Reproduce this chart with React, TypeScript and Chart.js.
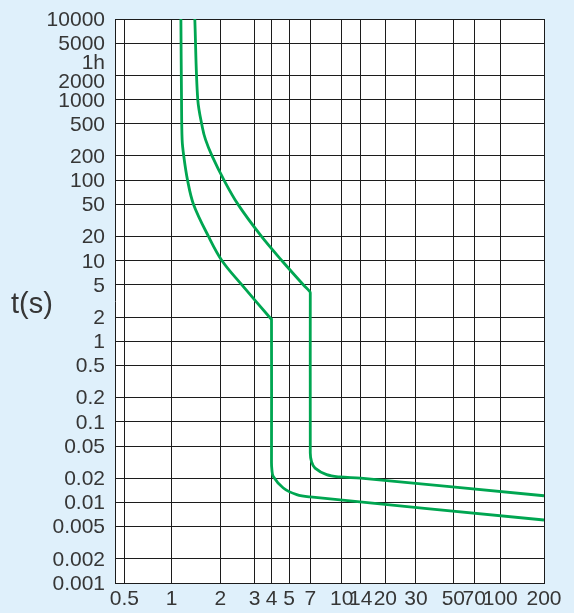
import React, { useEffect, useRef } from 'react';
import { Chart, registerables, LinearScale } from 'chart.js';

Chart.register(...registerables);

// ---- Axis definitions ----
const X_TICKS = [0.5, 1, 2, 3, 4, 5, 7, 10, 14, 20, 30, 50, 70, 100, 200];
// position of each x tick along the (hand-drawn, irregular log) axis, as a fraction of its width
const X_TICK_FRAC = [0.0217, 0.1322, 0.2455, 0.3256, 0.3648, 0.4056, 0.4552, 0.5284, 0.5727, 0.6301, 0.7016, 0.7886, 0.8375, 0.8981, 1.0];

const Y_TICK_VALUES = [10000, 5000, 3600, 2000, 1000, 500, 200, 100, 50, 20, 10, 5, 2, 1, 0.5, 0.2, 0.1, 0.05, 0.02, 0.01, 0.005, 0.002, 0.001];
const Y_TICK_LABELS = ['10000', '5000', '1h', '2000', '1000', '500', '200', '100', '50', '20', '10', '5', '2', '1', '0.5', '0.2', '0.1', '0.05', '0.02', '0.01', '0.005', '0.002', '0.001'];
const Y_GRID = [10000, 5000, 2000, 1000, 500, 200, 100, 50, 20, 10, 5, 2, 1, 0.5, 0.2, 0.1, 0.05, 0.02, 0.01, 0.005, 0.002, 0.001];

// ---- Series (x = multiple of In, y = time in s) ----
const CURVE_A_CURRENT = [1.14, 1.15, 1.16, 1.187, 1.253, 1.365, 1.69, 2.04, 2.58, 3.93, 4, 4, 4.02, 4.09, 4.65, 5.65, 7, 200];
const CURVE_A_TIME = [10000, 1000, 318, 200, 100, 50, 20, 10, 5, 1.93, 1.9, 0.031, 0.0255, 0.021, 0.0151, 0.0125, 0.0117, 0.00605];

const CURVE_B_CURRENT = [1.39, 1.45, 1.55, 1.62, 1.777, 2.089, 2.464, 3.37, 4.57, 6.29, 6.9, 7, 7, 7.1, 7.39, 8.43, 9.8, 14, 200];
const CURVE_B_TIME = [10000, 1000, 448, 318, 200, 100, 50, 20, 10, 5, 4.2, 4.0, 0.041, 0.032, 0.0267, 0.0221, 0.0207, 0.02, 0.0121];

// ---- Styles ----
const BG = '#dff0fb';
const GRID = '#1c1c1c';
const GREEN = '#00a651';
const LABEL = '#363636';
const FONT = '"Liberation Sans", Arial, sans-serif';

const LOG_TICKS = X_TICKS.map((v) => Math.log10(v));

function valueToFrac(v: number): number {
  const lv = Math.log10(Math.max(v, 1e-9));
  const n = LOG_TICKS.length;
  let i = 0;
  if (lv >= LOG_TICKS[n - 1]) i = n - 2;
  else if (lv > LOG_TICKS[0]) {
    while (i < n - 2 && lv > LOG_TICKS[i + 1]) i++;
  }
  const t = (lv - LOG_TICKS[i]) / (LOG_TICKS[i + 1] - LOG_TICKS[i]);
  return X_TICK_FRAC[i] + t * (X_TICK_FRAC[i + 1] - X_TICK_FRAC[i]);
}

function fracToValue(f: number): number {
  const n = X_TICK_FRAC.length;
  let i = 0;
  if (f >= X_TICK_FRAC[n - 1]) i = n - 2;
  else if (f > X_TICK_FRAC[0]) {
    while (i < n - 2 && f > X_TICK_FRAC[i + 1]) i++;
  }
  const t = (f - X_TICK_FRAC[i]) / (X_TICK_FRAC[i + 1] - X_TICK_FRAC[i]);
  return Math.pow(10, LOG_TICKS[i] + t * (LOG_TICKS[i + 1] - LOG_TICKS[i]));
}

class PiecewiseLogScale extends LinearScale {
  static id = 'piecewiseLog';
  static defaults = {};
  buildTicks() {
    return X_TICKS.map((v) => ({ value: v }));
  }
  getPixelForValue(value: number) {
    return this.getPixelForDecimal(valueToFrac(value));
  }
  getValueForPixel(pixel: number) {
    return fracToValue(this.getDecimalForPixel(pixel));
  }
}
Chart.register(PiecewiseLogScale as any);

const backgroundPlugin = {
  id: 'bgFill',
  beforeDraw(chart: any) {
    const { ctx, chartArea, width, height } = chart;
    ctx.save();
    ctx.fillStyle = BG;
    ctx.fillRect(0, 0, width, height);
    ctx.fillStyle = '#ffffff';
    ctx.fillRect(chartArea.left, chartArea.top, chartArea.right - chartArea.left, chartArea.bottom - chartArea.top);
    ctx.restore();
  },
};

const yLabelPlugin = {
  id: 'yLabels',
  afterDraw(chart: any) {
    const { ctx, chartArea, scales } = chart;
    const ys = scales.y;
    ctx.save();
    ctx.font = `21px ${FONT}`;
    ctx.fillStyle = LABEL;
    ctx.textAlign = 'right';
    ctx.textBaseline = 'middle';
    let prev = -Infinity;
    Y_TICK_VALUES.forEach((v, i) => {
      let py = ys.getPixelForValue(v);
      py = Math.max(py, prev + 19);
      prev = py;
      ctx.fillText(Y_TICK_LABELS[i], chartArea.left - 10, py + 1);
    });
    ctx.font = `29px ${FONT}`;
    ctx.textAlign = 'center';
    ctx.textBaseline = 'middle';
    ctx.fillText('t(s)', 32, (chartArea.top + chartArea.bottom) / 2 + 4);
    ctx.restore();
  },
};

function toPoints(xs: number[], ys: number[]) {
  return xs.map((x, i) => ({ x, y: ys[i] }));
}

export default function App() {
  const canvasRef = useRef<HTMLCanvasElement | null>(null);

  useEffect(() => {
    document.body.style.margin = '0';
    document.body.style.background = BG;
    const canvas = canvasRef.current;
    if (!canvas) return;
    const lineStyle = {
      borderColor: GREEN,
      borderWidth: 2.8,
      pointRadius: 0,
      tension: 0.35,
      fill: false,
      borderJoinStyle: 'round' as const,
    };
    const chart = new Chart(canvas, {
      type: 'line',
      data: {
        datasets: [
          { label: 'A', data: toPoints(CURVE_A_CURRENT, CURVE_A_TIME), ...lineStyle },
          { label: 'B', data: toPoints(CURVE_B_CURRENT, CURVE_B_TIME), ...lineStyle },
        ],
      },
      options: {
        animation: false,
        responsive: false,
        events: [],
        layout: { padding: { top: 19, right: 30, left: 0, bottom: 0 } },
        plugins: { legend: { display: false }, tooltip: { enabled: false } },
        scales: {
          x: {
            type: 'piecewiseLog' as any,
            min: 0.45,
            max: 200,
            afterFit: (s: any) => {
              s.height = 30;
            },
            grid: { color: GRID, lineWidth: 1, drawTicks: false },
            border: { display: true, color: GRID, width: 1 },
            ticks: {
              autoSkip: false,
              maxRotation: 0,
              minRotation: 0,
              padding: 4,
              color: LABEL,
              font: { family: FONT, size: 21 },
              callback: (v: any) => String(v),
            },
          },
          y: {
            type: 'logarithmic',
            min: 0.001,
            max: 10000,
            afterBuildTicks: (s: any) => {
              s.ticks = Y_GRID.map((v) => ({ value: v }));
            },
            afterFit: (s: any) => {
              s.width = 115;
            },
            grid: { color: GRID, lineWidth: 1, drawTicks: false },
            border: { display: true, color: GRID, width: 1 },
            ticks: { display: false },
          },
        },
      } as any,
      plugins: [backgroundPlugin, yLabelPlugin],
    });
    return () => chart.destroy();
  }, []);

  return <canvas ref={canvasRef} width={574} height={613} style={{ display: 'block' }} />;
}
